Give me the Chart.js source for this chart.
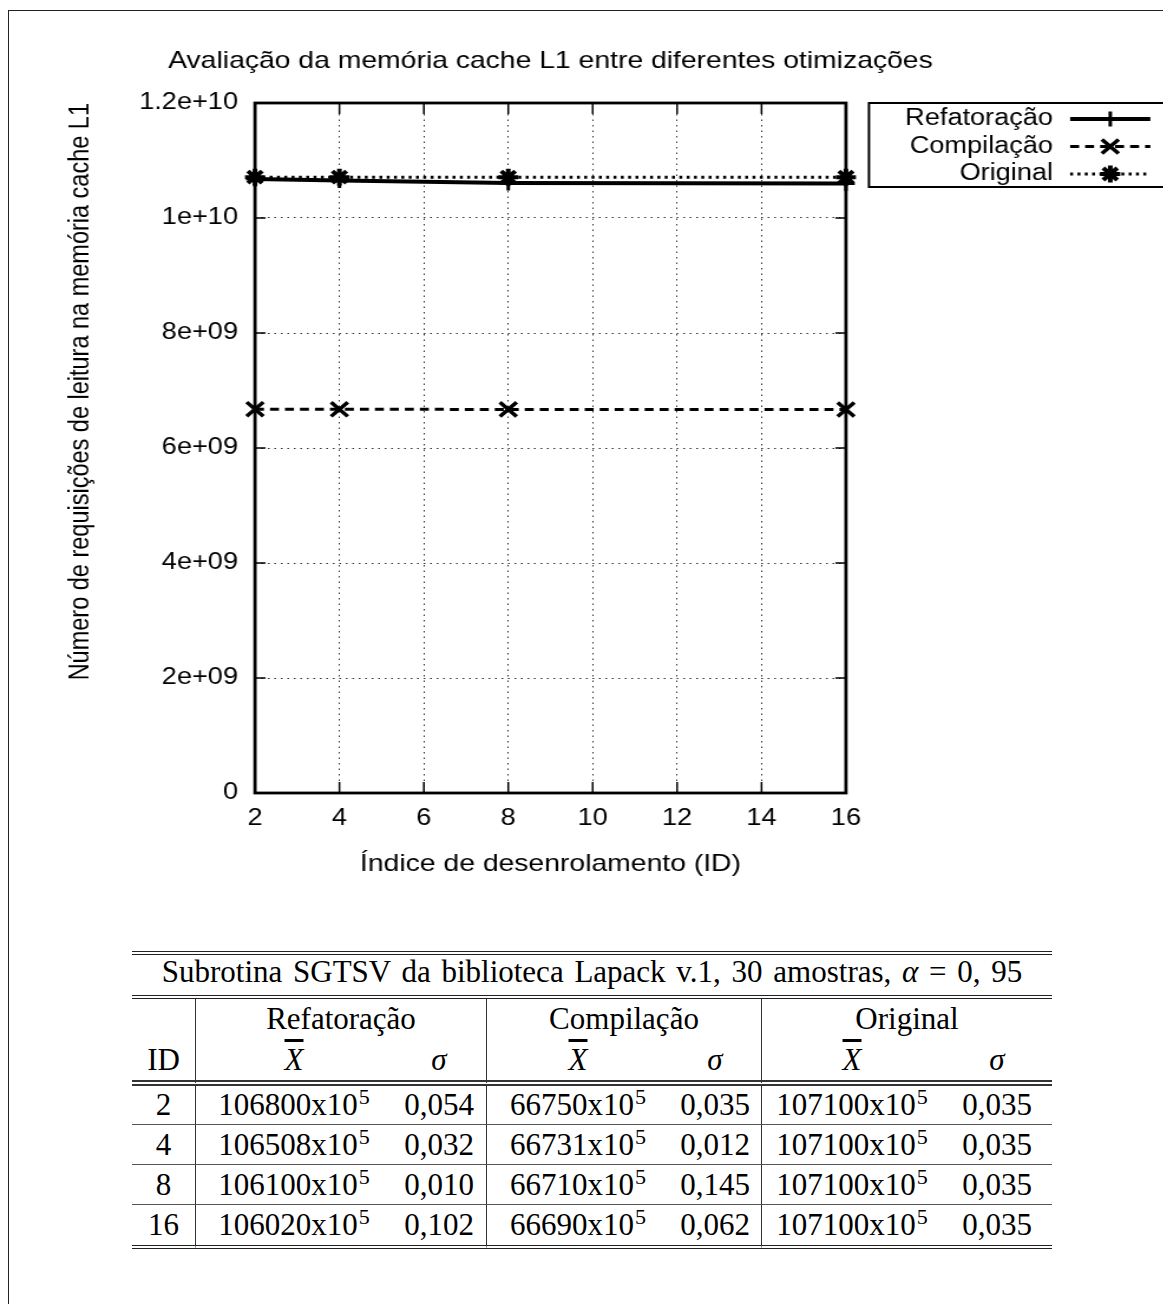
<!DOCTYPE html>
<html>
<head>
<meta charset="utf-8">
<title>Avaliação da memória cache L1</title>
<script src="https://cdn.jsdelivr.net/npm/chart.js@4.4.1/dist/chart.umd.min.js"></script>
<style>
  html, body { margin: 0; padding: 0; background: #fff; overflow: hidden; }
  #moldura { position: absolute; left: 8px; top: 10px; width: 1300px; height: 1400px; border: 1px solid #222; }
  /* the gnuplot figure is wider than tall in the original, so stretch it */
  #grafico-box { position: absolute; left: 0; top: 0; width: 986px; height: 900px; transform: scaleX(1.18); transform-origin: 0 0; }
  #tabela { position: absolute; left: 132px; top: 951px; width: 920px; table-layout: fixed;
            border-collapse: separate; border-spacing: 0;
            font-family: "Liberation Serif", "Times New Roman", serif; font-size: 31px; color: #000; }
  #tabela td { padding: 0; text-align: center; white-space: nowrap; }
  #tabela .cap { line-height: 34px; padding-bottom: 6px; border-top: 4px double #222; border-bottom: 4px double #222; word-spacing: 3px; }
  #tabela .h1 td { line-height: 40px; }
  #tabela .h2 td { line-height: 41px; border-bottom: 6px double #333; }
  #tabela .linha td { line-height: 39px; border-bottom: 1px solid #555; }
  #tabela .primeira td { line-height: 38px; }
  #tabela .ultima td { line-height: 40px; border-bottom: 4px double #222; }
  #tabela td.sep { border-right: 1px solid #333; }
  #tabela sup { font-size: 22px; line-height: 0; vertical-align: 11px; margin-left: 1px; }
  .xbar { text-decoration: overline; }
</style>
</head>
<body>
<div id="moldura"></div>
<div id="grafico-box"><canvas id="grafico" width="986" height="900"></canvas></div>

<table id="tabela">
  <colgroup>
    <col style="width:64px"><col style="width:196px"><col style="width:95px">
    <col style="width:182px"><col style="width:93px"><col style="width:180px"><col style="width:110px">
  </colgroup>
  <tr><td colspan="7" class="cap">Subrotina SGTSV da biblioteca Lapack v.1, 30 amostras, <i>α</i> = 0, 95</td></tr>
  <tr class="h1"><td class="sep"></td><td colspan="2" class="sep">Refatoração</td><td colspan="2" class="sep">Compilação</td><td colspan="2">Original</td></tr>
  <tr class="h2"><td class="sep">ID</td>
    <td><i class="xbar">X</i></td><td class="sep"><i>σ</i></td>
    <td><i class="xbar">X</i></td><td class="sep"><i>σ</i></td>
    <td><i class="xbar">X</i></td><td><i>σ</i></td></tr>
  <tbody id="corpo"></tbody>
</table>

<script>
// unrolling index (ID)
var ids = [2, 4, 8, 16];

// mean L1 read requests per version
var refMeans  = [10680000000, 10650800000, 10610000000, 10602000000];
var compMeans = [6675000000, 6673100000, 6671000000, 6669000000];
var origMeans = [10710000000, 10710000000, 10710000000, 10710000000];

// standard deviations (table only)
var refSigma  = [0.054, 0.032, 0.010, 0.102];
var compSigma = [0.035, 0.012, 0.145, 0.062];
var origSigma = [0.035, 0.035, 0.035, 0.035];

var seriesNames = ['Refatoração', 'Compilação', 'Original'];
var yTickLabels = ['0', '2e+09', '4e+09', '6e+09', '8e+09', '1e+10', '1.2e+10'];

var chartTitle = 'Avaliação da memória cache L1 entre diferentes otimizações';
var xTitle = 'Índice de desenrolamento (ID)';
var yTitle = 'Número de requisições de leitura na memória cache L1';

var fonte = '"Liberation Sans", Arial, Helvetica, sans-serif';
Chart.defaults.font.family = fonte;
Chart.defaults.color = '#000';

function pontos(valores) {
	return ids.map(function (id, i) { return {x: id, y: valores[i]}; });
}

// border, inward tics, title and the boxed legend, gnuplot style
var molduraGnuplot = {
	id: 'molduraGnuplot',
	afterDatasetsDraw: function (chart) {
		var ctx = chart.ctx;
		var a = chart.chartArea;
		var sx = chart.scales.x, sy = chart.scales.y;
		ctx.save();
		ctx.strokeStyle = '#000';
		ctx.fillStyle = '#000';
		ctx.setLineDash([]);

		ctx.lineWidth = 1.5;
		ctx.beginPath();
		sx.ticks.forEach(function (t) {
			var px = sx.getPixelForValue(t.value);
			ctx.moveTo(px, a.bottom); ctx.lineTo(px, a.bottom - 11);
			ctx.moveTo(px, a.top); ctx.lineTo(px, a.top + 11);
		});
		sy.ticks.forEach(function (t) {
			var py = sy.getPixelForValue(t.value);
			ctx.moveTo(a.left, py); ctx.lineTo(a.left + 9, py);
			ctx.moveTo(a.right, py); ctx.lineTo(a.right - 9, py);
		});
		ctx.stroke();

		ctx.lineWidth = 2.8;
		ctx.strokeRect(a.left, a.top, a.right - a.left, a.bottom - a.top);

		ctx.font = '24px ' + fonte;
		ctx.textAlign = 'center';
		ctx.textBaseline = 'middle';
		ctx.fillText(chartTitle, (a.left + a.right) / 2, a.top - 42);

		// legend
		ctx.lineWidth = 2;
		ctx.strokeRect(a.right + 19.5, a.top, 400, 84);
		ctx.font = '23px ' + fonte;
		ctx.textAlign = 'right';
		chart.data.datasets.forEach(function (ds, i) {
			var yy = a.top + 16 + i * 27.5;
			ctx.fillText(ds.label, a.right + 175.5, yy);
			ctx.lineWidth = ds.borderWidth;
			ctx.setLineDash(ds.borderDash || []);
			ctx.beginPath();
			ctx.moveTo(a.right + 190, yy);
			ctx.lineTo(a.right + 258, yy);
			ctx.stroke();
			ctx.setLineDash([]);
			ctx.lineWidth = ds.pointBorderWidth;
			Chart.helpers.drawPoint(ctx, {pointStyle: ds.pointStyle, radius: ds.pointRadius, rotation: 0, borderWidth: ds.pointBorderWidth}, a.right + 224, yy);
		});
		ctx.restore();
	}
};

var chart = new Chart(document.getElementById('grafico'), {
	type: 'line',
	data: {
		datasets: [
			{label: seriesNames[0], data: pontos(refMeans), order: 3,
			 borderColor: '#000', backgroundColor: '#000', borderWidth: 4,
			 pointStyle: 'cross', pointRadius: 7.5, pointBorderWidth: 3, clip: false},
			{label: seriesNames[1], data: pontos(compMeans), order: 2,
			 borderColor: '#000', backgroundColor: '#000', borderWidth: 3, borderDash: [7.6, 5.1],
			 pointStyle: 'crossRot', pointRadius: 10, pointBorderWidth: 3.5, clip: false},
			{label: seriesNames[2], data: pontos(origMeans), order: 1,
			 borderColor: '#000', backgroundColor: '#000', borderWidth: 3, borderDash: [2.5, 3.7],
			 pointStyle: 'star', pointRadius: 8.5, pointBorderWidth: 4, clip: false}
		]
	},
	options: {
		responsive: false,
		animation: false,
		events: [],
		layout: {padding: {left: 50.5, right: 269.1, top: 103, bottom: 0}},
		plugins: {legend: {display: false}, tooltip: {enabled: false}, title: {display: false}},
		scales: {
			x: {
				type: 'linear', min: 2, max: 16,
				ticks: {stepSize: 2, padding: 12, font: {size: 23}},
				grid: {color: '#333', lineWidth: 1, drawTicks: false},
				border: {display: false, dash: [1.5, 4]},
				title: {display: true, text: xTitle, font: {size: 24}, padding: {top: 0, bottom: 21.6}},
				afterFit: function (s) { s.height = 107; }
			},
			y: {
				min: 0, max: 12000000000,
				ticks: {stepSize: 2000000000, padding: 14.4, font: {size: 23},
					callback: function (v, i) { return yTickLabels[i]; }},
				grid: {color: '#333', lineWidth: 1, drawTicks: false},
				border: {display: false, dash: [1.5, 4]},
				title: {display: true, text: yTitle, align: 'end', font: {size: 23.5}, padding: {top: 4, bottom: 4}},
				afterFit: function (s) { s.width = 165.6; }
			}
		}
	},
	plugins: [molduraGnuplot]
});

// table rows from the same arrays
function media(v) { return Math.round(v / 100000) + 'x10<sup>5</sup>'; }
function desvio(s) { return s.toFixed(3).replace('.', ','); }

var corpo = document.getElementById('corpo');
ids.forEach(function (id, i) {
	var tr = document.createElement('tr');
	tr.className = 'linha' + (i === 0 ? ' primeira' : '') + (i === ids.length - 1 ? ' ultima' : '');
	tr.innerHTML = '<td class="sep">' + id + '</td>' +
		'<td>' + media(refMeans[i]) + '</td><td class="sep">' + desvio(refSigma[i]) + '</td>' +
		'<td>' + media(compMeans[i]) + '</td><td class="sep">' + desvio(compSigma[i]) + '</td>' +
		'<td>' + media(origMeans[i]) + '</td><td>' + desvio(origSigma[i]) + '</td>';
	corpo.appendChild(tr);
});
</script>
</body>
</html>
